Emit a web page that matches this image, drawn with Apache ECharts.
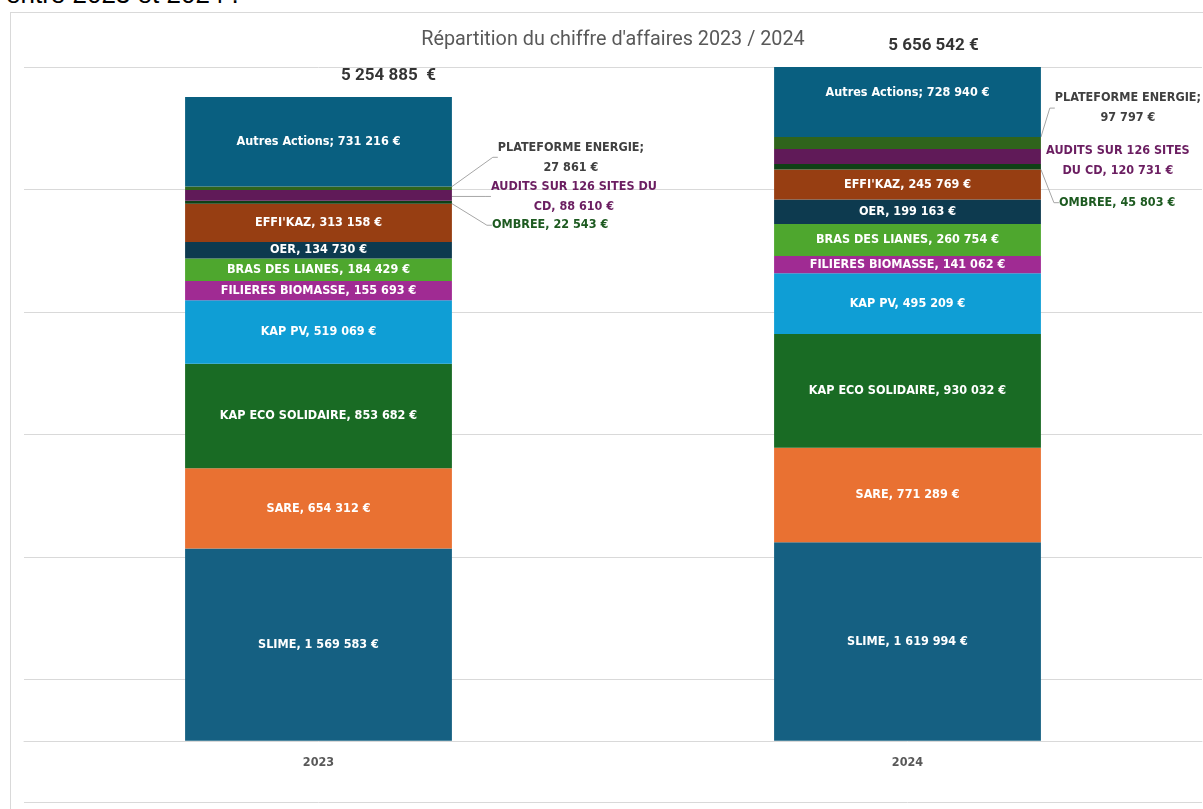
<!DOCTYPE html>
<html><head><meta charset="utf-8">
<script src="https://cdn.jsdelivr.net/npm/echarts@6/dist/echarts.min.js"></script>
<style>
html,body{margin:0;padding:0;background:#fff;overflow:hidden;width:1203px;height:809px;}
#top{position:absolute;left:6px;top:-19px;font:26px 'Liberation Sans',Arial,sans-serif;color:#000;line-height:26px;white-space:nowrap;}
#frame{position:absolute;left:10px;top:12px;width:1300px;height:900px;border:1px solid #d9d9d9;box-sizing:border-box;}
#chart{position:absolute;left:0;top:0;width:1203px;height:809px;}
</style></head><body>
<div id="top">entre 2023 et 2024 .</div>
<div id="frame"></div>
<div id="chart"></div>
<script>
// ---- data ----
const categories = ['2023', '2024'];
const slime      = [1569583, 1619994];
const sare       = [654312, 771289];
const kapEco     = [853682, 930032];
const kapPv      = [519069, 495209];
const filieres   = [155693, 141062];
const brasLianes = [184429, 260754];
const oer        = [134730, 199163];
const effikaz    = [313158, 245769];
const ombree     = [22543, 45803];
const audits     = [88610, 120731];
const plateforme = [27861, 97797];
const autres     = [731216, 728940];
const totalLabels = ['5 254 885  €', '5 656 542 €'];
const valueAxisMin = -500000;
const valueAxisMax = 5500000;
const valueAxisStep = 1000000;
const auditsLabelLines = [['AUDITS SUR 126 SITES DU', 'CD'], ['AUDITS SUR 126 SITES', 'DU CD']];

// ---- styling ----
const NARROW = "'DejaVu Sans Condensed','Liberation Sans Narrow',sans-serif";
const LABEL_SIZE = 12.5;
const GRID = {left: 24, right: 1, top: 67, bottom: 7};
const CHART_H = 809;
const fmt = v => String(v).replace(/\B(?=(\d{3})+(?!\d))/g, ' ');

const defs = [
  {name: 'SLIME', data: slime, color: '#156082'},
  {name: 'SARE', data: sare, color: '#E97132'},
  {name: 'KAP ECO SOLIDAIRE', data: kapEco, color: '#196B24'},
  {name: 'KAP PV', data: kapPv, color: '#0F9ED5'},
  {name: 'FILIERES BIOMASSE', data: filieres, color: '#A02B93'},
  {name: 'BRAS DES LIANES', data: brasLianes, color: '#4EA72E'},
  {name: 'OER', data: oer, color: '#0D3A4F'},
  {name: "EFFI'KAZ", data: effikaz, color: '#973E12'},
  {name: 'OMBREE', data: ombree, color: '#0F4016', outside: true, textColor: '#1D5A20',
   place: [{dx: 40, dy: 23, align: 'left'}, {dx: 18, dy: 36, align: 'left'}]},
  {name: 'AUDITS SUR 126 SITES DU CD', data: audits, color: '#601A58', outside: true, textColor: '#6B1E61',
   place: [{dx: 122, dy: 1, align: 'center'}, {dx: 77, dy: 4.5, align: 'center', noLine: true}],
   text: (i, v) => auditsLabelLines[i][0] + '\n' + auditsLabelLines[i][1] + ', ' + fmt(v) + ' €'},
  {name: 'PLATEFORME ENERGIE', data: plateforme, color: '#2F641C', outside: true, textColor: '#404040',
   place: [{dx: 119, dy: -31, align: 'center'}, {dx: 87, dy: -35, align: 'center'}],
   text: (i, v) => 'PLATEFORME ENERGIE;\n' + fmt(v) + ' €'},
  {name: 'Autres Actions', data: autres, color: '#095F80',
   text: (i, v) => 'Autres Actions; ' + fmt(v) + ' €'}
];

const totals = categories.map((c, i) => defs.reduce((s, d) => s + d.data[i], 0));

const chart = echarts.init(document.getElementById('chart'), null, {renderer: 'canvas'});

const series = defs.map((d, si) => {
  const bases = categories.map((c, i) => defs.slice(0, si).reduce((s, e) => s + e.data[i], 0));
  const s = {
    name: d.name,
    type: 'bar',
    stack: 'total',
    barWidth: '45.3%',
    clip: true,
    itemStyle: {color: d.color},
    emphasis: {disabled: true},
    data: d.data.map((v, i) => {
      const item = {value: v};
      if (d.outside && d.place[i].noLine) item.labelLine = {show: false};
      return item;
    }),
    label: {
      show: true,
      position: 'inside',
      color: d.outside ? d.textColor : '#ffffff',
      fontFamily: NARROW,
      fontWeight: 'bold',
      fontSize: LABEL_SIZE,
      lineHeight: 20,
      textBorderWidth: 0,
      formatter: p => d.text ? d.text(p.dataIndex, p.value) : d.name + ', ' + fmt(p.value) + ' €'
    }
  };
  if (d.outside) {
    s.labelLine = {show: true, length2: 5, lineStyle: {color: '#a6a6a6', width: 1}};
    s.labelLayout = params => {
      const pl = d.place[params.dataIndex];
      const r = params.rect;
      return {x: r.x + r.width + pl.dx, y: r.y + r.height / 2 + pl.dy, align: pl.align, verticalAlign: 'middle'};
    };
  } else {
    // keep the label at the centre of the full (unclipped) segment
    s.labelLayout = params => {
      const i = params.dataIndex;
      const v = d.data[i];
      const base = bases[i];
      if (base + v <= valueAxisMax) return {};
      const r = params.rect;
      const shown = valueAxisMax - base;
      const pxPer = r.height / shown;
      return {dy: r.height / 2 - (v / 2) * pxPer};
    };
  }
  return s;
});

const totalOffsets = [[70, 0], [26, 0]];
series.push({
  name: 'Total',
  type: 'scatter',
  clip: false,
  symbolSize: 1,
  itemStyle: {color: 'rgba(0,0,0,0)'},
  emphasis: {disabled: true},
  data: totals.map((t, i) => ({value: [i, Math.min(t, valueAxisMax)], label: {offset: totalOffsets[i]}})),
  label: {
    show: true,
    position: 'top',
    distance: 12,
    color: '#000',
    fontFamily: 'Roboto, sans-serif',
    fontWeight: 'bold',
    fontSize: 17,
    formatter: p => totalLabels[p.dataIndex]
  }
});

// category axis sits on the value 0 (labels just below it)
const gridH = CHART_H - GRID.top - GRID.bottom;
const zeroOffset = -(0 - valueAxisMin) / (valueAxisMax - valueAxisMin) * gridH;

chart.setOption({
  animation: false,
  title: {
    text: "Répartition du chiffre d'affaires 2023 / 2024",
    left: 608,
    textAlign: 'center',
    top: 25,
    textStyle: {color: '#595959', fontFamily: 'Roboto, sans-serif', fontWeight: 'normal', fontSize: 19.8}
  },
  grid: {left: GRID.left, right: GRID.right, top: GRID.top, bottom: GRID.bottom, containLabel: false, outerBoundsMode: 'none'},
  xAxis: {
    type: 'category',
    data: categories,
    offset: zeroOffset,
    axisLine: {onZero: false, lineStyle: {color: '#d9d9d9', width: 1}},
    axisTick: {show: false},
    axisLabel: {color: '#595959', fontFamily: NARROW, fontWeight: 'bold', fontSize: LABEL_SIZE, margin: 15}
  },
  yAxis: {
    type: 'value',
    min: valueAxisMin,
    max: valueAxisMax,
    interval: valueAxisStep,
    axisLabel: {show: false},
    axisLine: {show: false},
    axisTick: {show: false},
    splitLine: {lineStyle: {color: '#d9d9d9', width: 1}}
  },
  series: series
});
</script>
</body></html>
